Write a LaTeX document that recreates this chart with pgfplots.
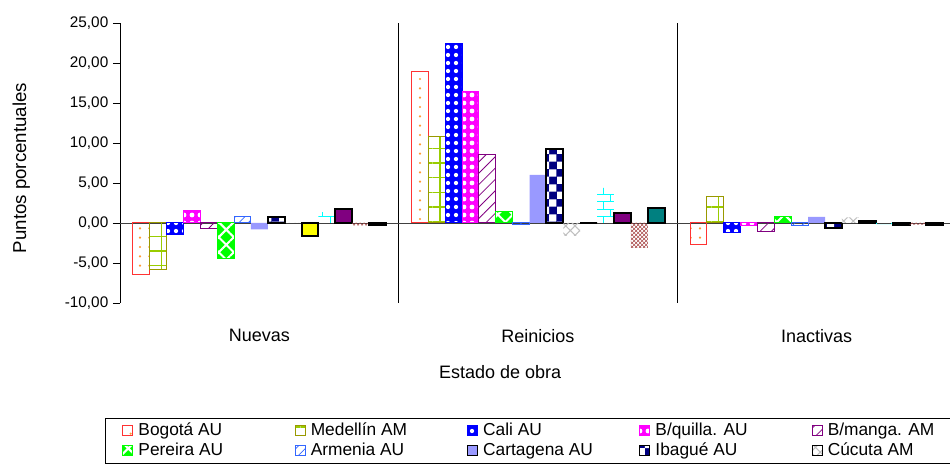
\documentclass[border=0pt]{standalone}
\usepackage{fontspec}
\setmainfont{Liberation Sans}
\usepackage{pgfplots}
\pgfplotsset{compat=1.18}
\usetikzlibrary{patterns,patterns.meta}
\definecolor{bogred}{HTML}{FF3333}
\definecolor{bogdot}{HTML}{FF9933}
\definecolor{medline}{HTML}{99CC00}
\definecolor{medolive}{HTML}{999900}
\definecolor{cali}{HTML}{0000FF}
\definecolor{bquilla}{HTML}{FF00FF}
\definecolor{bmanga}{HTML}{800080}
\definecolor{pereira}{HTML}{00FF00}
\definecolor{armenia}{HTML}{3366FF}
\definecolor{cartagena}{HTML}{9999FF}
\definecolor{ibague}{HTML}{000080}
\definecolor{cucuta}{HTML}{C0C0C0}
\definecolor{amar}{HTML}{FFFF00}
\definecolor{cian}{HTML}{00FFFF}
\definecolor{morado}{HTML}{800080}
\definecolor{cafe}{HTML}{A84848}
\definecolor{verdeazul}{HTML}{008080}
\begin{document}
\begin{tikzpicture}
\useasboundingbox (0,0) rectangle (712.5pt,353.25pt);
\begin{axis}[
  at={(90pt,126pt)}, anchor=south west,
  scale only axis, width=622.5pt, height=210pt,
  xmin=-0.5, xmax=2.4785, ymin=-10, ymax=25,
  ybar, bar width=0.0606,
  axis lines*=left,
  x axis line style={draw=none},
  y axis line style={black, line width=0.6pt},
  xtick={0,1,2}, xticklabels={Nuevas,Reinicios,Inactivas},
  x tick style={draw=none},
  x tick label style={font=\fontsize{13.5}{16}\selectfont, yshift=-11pt},
  ytick={-10,-5,...,25},
  y tick style={black, line width=0.6pt},
  tick align=outside, major tick length=5.25pt,
  y tick label style={font=\fontsize{11.5}{14}\selectfont,
    /pgf/number format/fixed, /pgf/number format/fixed zerofill,
    /pgf/number format/precision=2, /pgf/number format/use comma,
    /pgf/number format/assume math mode=true},
  extra x ticks={0.5,1.5}, extra x tick labels={},
  extra x tick style={grid=major, major grid style={black, line width=0.6pt}},
  extra y ticks={0}, extra y tick labels={},
  extra y tick style={grid=major, major grid style={black!75, line width=0.6pt}},
  xlabel={Estado de obra},
  xlabel style={font=\fontsize{13.5}{16}\selectfont, at={(axis description cs:0.458,-0.246)}, anchor=center},
  ylabel={Puntos porcentuales},
  ylabel style={font=\fontsize{14}{16}\selectfont, at={(axis description cs:-0.119,0.482)}, anchor=center},
  legend columns=5,
  legend cell align=left,
  legend style={at={(axis description cs:-0.018,-0.4107)}, anchor=north west,
    draw=black, line width=0.6pt, inner xsep=12.75pt, inner ysep=3pt,
    font=\fontsize{13}{15}\selectfont,
    nodes={inner sep=0pt, text height=9.5pt, text depth=3pt},
    /tikz/every odd column/.append style={column sep=3.75pt},
    /tikz/every even column/.append style={column sep=0pt},
    row sep=2.5pt},
  legend image code/.code={\draw[line width=0.75pt,#1] (0pt,-3.75pt) rectangle (7.5pt,3.75pt);},
]
% 1 Bogota
\addplot[draw=bogred, line width=0.75pt, pattern={Dots[distance=7pt,radius=0.9pt]}, pattern color=bogdot, bar shift=-0.4242]
  coordinates {(0,-6.5) (1,18.9) (2,-2.7)};
% 2 Medellin
\addplot[draw=medolive, line width=0.75pt, pattern={Hatch[angle=0,distance=11pt,line width=1pt]}, pattern color=medline, bar shift=-0.3636]
  coordinates {(0,-5.8) (1,10.8) (2,3.3)};
% 3 Cali
\addplot[draw=cali, line width=0.75pt, fill=cali, postaction={pattern={Dots[distance=6pt,radius=1.6pt]}, pattern color=white}, bar shift=-0.3030]
  coordinates {(0,-1.45) (1,22.5) (2,-1.25)};
% 4 B/quilla
\addplot[draw=bquilla, line width=0.75pt, fill=bquilla, postaction={pattern={Dots[distance=6pt,radius=1.8pt]}, pattern color=white}, bar shift=-0.2424]
  coordinates {(0,1.5) (1,16.4) (2,-0.35)};
% 5 B/manga
\addplot[draw=bmanga, line width=0.75pt, pattern={Lines[angle=45,distance=6pt,line width=0.6pt]}, pattern color=bmanga, bar shift=-0.1818]
  coordinates {(0,-0.7) (1,8.5) (2,-1.1)};
% 6 Pereira
\addplot[draw=pereira, line width=0.75pt, fill=pereira, postaction={pattern={Hatch[angle=45,distance=8pt,line width=1.5pt]}, pattern color=white}, bar shift=-0.1212]
  coordinates {(0,-4.5) (1,1.4) (2,0.75)};
% 7 Armenia
\addplot[draw=armenia, line width=0.75pt, pattern={Lines[angle=45,distance=5pt,line width=0.6pt]}, pattern color=armenia, bar shift=-0.0606]
  coordinates {(0,0.75) (1,-0.2) (2,-0.35)};
% 8 Cartagena
\addplot[draw=none, fill=cartagena, bar shift=0]
  coordinates {(0,-0.8) (1,6.0) (2,0.75)};
% 9 Ibague
\addplot[draw=black, line width=1.5pt, fill=ibague, postaction={pattern=checkerboard, pattern color=white}, bar shift=0.0606]
  coordinates {(0,0.75) (1,9.25) (2,-0.6)};
% 10 Cucuta
\addplot[draw=none, pattern={Hatch[angle=45,distance=5pt,line width=0.8pt]}, pattern color=cucuta, bar shift=0.1212]
  coordinates {(0,0) (1,-1.6) (2,0.7)};
% 11
\addplot[draw=black, line width=1.5pt, fill=amar, bar shift=0.1818]
  coordinates {(0,-1.6) (1,0) (2,0.25)};
% 12
\addplot[draw=none, pattern=bricks, pattern color=cian, bar shift=0.2424]
  coordinates {(0,1.35) (1,4.4) (2,-0.15)};
% 13
\addplot[draw=black, line width=1.5pt, fill=morado, bar shift=0.3030]
  coordinates {(0,1.7) (1,1.2) (2,-0.3)};
% 14
\addplot[draw=none, pattern=crosshatch, pattern color=cafe, bar shift=0.3636]
  coordinates {(0,-0.3) (1,-3.1) (2,-0.2)};
% 15
\addplot[draw=black, line width=1.5pt, fill=verdeazul, bar shift=0.4242]
  coordinates {(0,-0.3) (1,1.9) (2,-0.3)};
\legend{\makebox[117.25pt][l]{Bogotá AU},\makebox[117.25pt][l]{Medellín AM},\makebox[117.25pt][l]{Cali AU},\makebox[117.25pt][l]{B/quilla. AU},\makebox[117.25pt][l]{B/manga. AM},
\makebox[117.25pt][l]{Pereira AU},\makebox[117.25pt][l]{Armenia AU},\makebox[117.25pt][l]{Cartagena AU},\makebox[117.25pt][l]{Ibagué AU},\makebox[117.25pt][l]{Cúcuta AM}}
\end{axis}
\end{tikzpicture}
\end{document}
